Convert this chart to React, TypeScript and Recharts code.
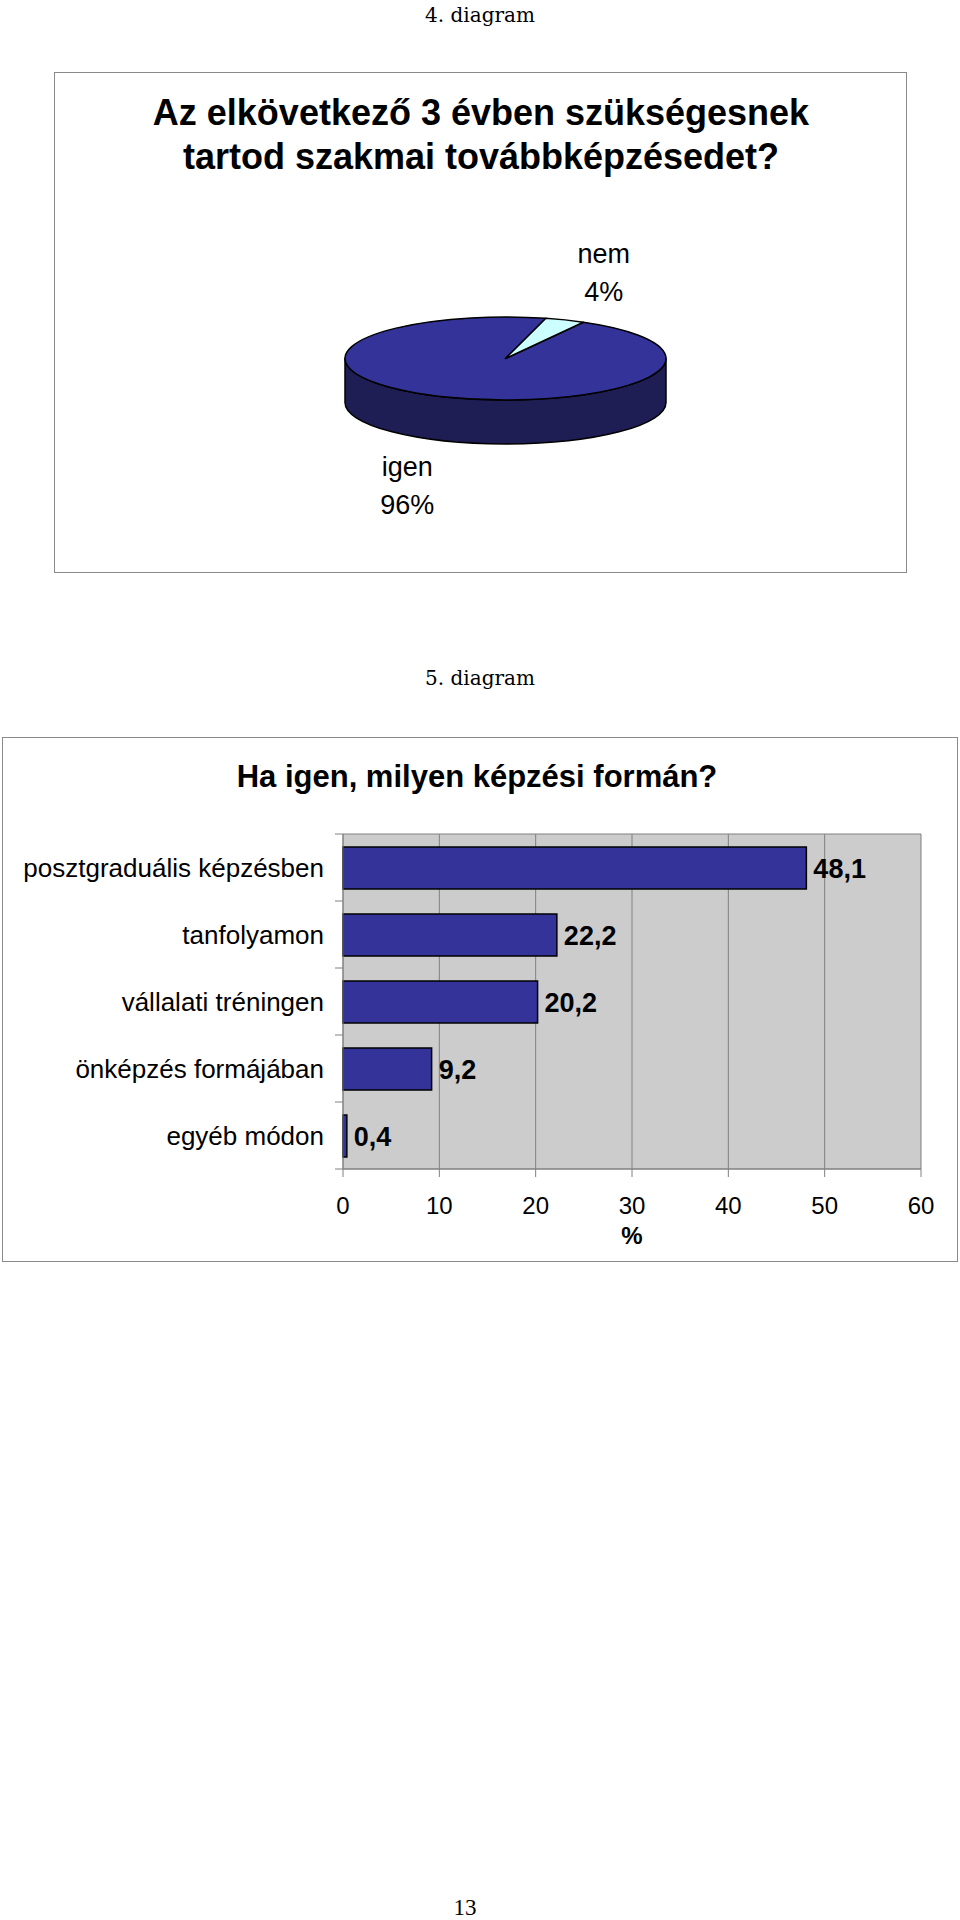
import {
  PieChart,
  Pie,
  Cell,
  BarChart,
  Bar,
  XAxis,
  YAxis,
  CartesianGrid,
  LabelList,
  Label,
} from 'recharts';

// 4. diagram
const pieNames = ['igen', 'nem'];
const pieValues = [96, 4];
const pieColors = ['#333399', '#ccffff'];
const pieSideColors = ['#1e1e55', '#7fa3a3'];

// 5. diagram
const barCategories = [
  'posztgraduális képzésben',
  'tanfolyamon',
  'vállalati tréningen',
  'önképzés formájában',
  'egyéb módon',
];
const barValues = [48.1, 22.2, 20.2, 9.2, 0.4];
const xTicks = [0, 10, 20, 30, 40, 50, 60];

const SANS = '"Liberation Sans", Arial, sans-serif';
const SERIF = '"DejaVu Serif", serif';

// 3D look of the pie
const TILT = 0.2586;
const DEPTH = 44;

// bar chart layout
const BAR_W = 960;
const BAR_H = 528;
const BAR_MARGIN = { top: 96, right: 39, bottom: 57, left: 0 };
const X_AXIS_H = 40;
const PLOT_H = BAR_H - BAR_MARGIN.top - BAR_MARGIN.bottom - X_AXIS_H;

const pieData = pieNames.map((name, i) => ({ name, value: pieValues[i] }));
const barData = barCategories.map((name, i) => ({ name, value: barValues[i] }));

function ellipsePoint(cx: number, cy: number, r: number, angle: number) {
  const rad = (angle * Math.PI) / 180;
  return [cx + r * Math.cos(rad), cy - r * TILT * Math.sin(rad)];
}

function PieSlice3D(props: any) {
  const { cx, cy, outerRadius: r, startAngle, endAngle, fill } = props;
  const ry = r * TILT;
  const hi = Math.max(startAngle, endAngle);
  const lo = Math.min(startAngle, endAngle);
  const [x1, y1] = ellipsePoint(cx, cy, r, hi);
  const [x2, y2] = ellipsePoint(cx, cy, r, lo);
  const large = hi - lo > 180 ? 1 : 0;
  const top = `M${cx},${cy} L${x1},${y1} A${r},${ry} 0 ${large} 1 ${x2},${y2} Z`;

  // only the front half of the rim is visible
  const walls: string[] = [];
  for (let k = -2; k <= 2; k++) {
    const a = Math.max(lo, -180 + 360 * k);
    const b = Math.min(hi, 360 * k);
    if (b - a > 0.01) {
      const [ax, ay] = ellipsePoint(cx, cy, r, b);
      const [bx, by] = ellipsePoint(cx, cy, r, a);
      walls.push(
        `M${ax},${ay} A${r},${ry} 0 0 1 ${bx},${by} L${bx},${by + DEPTH} A${r},${ry} 0 0 0 ${ax},${ay + DEPTH} Z`
      );
    }
  }
  const side = fill === pieColors[0] ? pieSideColors[0] : pieSideColors[1];

  return (
    <g>
      {walls.map((d, i) => (
        <path key={i} d={d} fill={side} stroke="#000" strokeWidth={1.5} strokeLinejoin="round" />
      ))}
      <path d={top} fill={fill} stroke="#000" strokeWidth={1.5} strokeLinejoin="round" />
    </g>
  );
}

function renderPieLabel(props: any) {
  const { cx, cy, midAngle, outerRadius, percent, name } = props;
  const rad = (midAngle * Math.PI) / 180;
  const s = Math.sin(rad);
  const x = cx + (outerRadius + 104) * Math.cos(rad);
  const y = cy - (outerRadius * TILT + 50) * s + (s < 0 ? DEPTH : 0);
  return (
    <text textAnchor="middle" fontFamily={SANS} fontSize={27} fill="#000">
      <tspan x={x} y={y - 11}>{name}</tspan>
      <tspan x={x} y={y + 27}>{Math.round(percent * 100)}%</tspan>
    </text>
  );
}

function CategoryTick(props: any) {
  const { x, y, payload, index, visibleTicksCount } = props;
  const axisX = x + 19;
  const half = PLOT_H / barCategories.length / 2;
  const last = index === (visibleTicksCount ?? barCategories.length) - 1;
  return (
    <g>
      <text x={x} y={y} dy="0.355em" textAnchor="end" fontFamily={SANS} fontSize={26} fill="#000">
        {payload.value}
      </text>
      <line x1={axisX - 8} x2={axisX} y1={y - half} y2={y - half} stroke="#808080" />
      {last && <line x1={axisX - 8} x2={axisX} y1={y + half} y2={y + half} stroke="#808080" />}
    </g>
  );
}

export default function App() {
  return (
    <div style={{ position: 'absolute', left: 0, top: 0, width: 960, height: 1920, background: '#fff' }}>
      <svg width={960} height={1920} style={{ position: 'absolute', left: 0, top: 0 }}>
        <text x={480} y={22} textAnchor="middle" fontFamily={SERIF} fontSize={20} fill="#000">
          4. diagram
        </text>
        <rect x={54.5} y={72.5} width={852} height={500} fill="none" stroke="#8a8a8a" />
        <g fontFamily={SANS} fontWeight="bold" fontSize={36} fill="#000" textAnchor="middle">
          <text x={481} y={125}>Az elkövetkező 3 évben szükségesnek</text>
          <text x={481} y={169}>tartod szakmai továbbképzésedet?</text>
        </g>

        <text x={480} y={685} textAnchor="middle" fontFamily={SERIF} fontSize={20} fill="#000">
          5. diagram
        </text>
        <rect x={2.5} y={737.5} width={955} height={524} fill="none" stroke="#8a8a8a" />
        <text x={477} y={787} textAnchor="middle" fontFamily={SANS} fontWeight="bold" fontSize={31} fill="#000">
          Ha igen, milyen képzési formán?
        </text>

        <text x={465} y={1915} textAnchor="middle" fontFamily='"Liberation Serif", serif' fontSize={23} fill="#000">
          13
        </text>
      </svg>

      <div style={{ position: 'absolute', left: 54, top: 72 }}>
        <PieChart width={852} height={501} margin={{ top: 0, right: 0, bottom: 0, left: 0 }}>
          <Pie
            data={pieData}
            dataKey="value"
            nameKey="name"
            cx={451.5}
            cy={286.5}
            outerRadius={160.5}
            startAngle={61}
            endAngle={-299}
            shape={PieSlice3D}
            activeShape={PieSlice3D}
            inactiveShape={PieSlice3D}
            label={renderPieLabel}
            labelLine={false}
            isAnimationActive={false}
          >
            {pieData.map((entry, i) => (
              <Cell key={entry.name} fill={pieColors[i]} />
            ))}
          </Pie>
        </PieChart>
      </div>

      <div style={{ position: 'absolute', left: 0, top: 738 }}>
        <BarChart width={BAR_W} height={BAR_H} data={barData} layout="vertical" margin={BAR_MARGIN}>
          <CartesianGrid
            fill="#cccccc"
            stroke="#808080"
            horizontalCoordinatesGenerator={({ offset }: any) => [offset.top, offset.top + offset.height]}
          />
          <XAxis
            type="number"
            domain={[0, 60]}
            ticks={xTicks}
            height={X_AXIS_H}
            tickSize={8}
            tickMargin={20}
            stroke="#808080"
            tick={{ fontSize: 24, fill: '#000', fontFamily: SANS }}
          >
            <Label value="%" position="bottom" offset={18} fontSize={24} fontWeight="bold" fill="#000" fontFamily={SANS} />
          </XAxis>
          <YAxis
            type="category"
            dataKey="name"
            width={343}
            tickSize={0}
            tickLine={false}
            tickMargin={19}
            stroke="#808080"
            tick={<CategoryTick />}
            interval={0}
          />
          <Bar dataKey="value" fill="#333399" stroke="#000" strokeWidth={1.5} barSize={42} isAnimationActive={false}>
            <LabelList
              dataKey="value"
              position="right"
              offset={7}
              formatter={(v: any) => Number(v).toFixed(1).replace('.', ',')}
              fontSize={27}
              fontWeight="bold"
              fill="#000"
              fontFamily={SANS}
            />
          </Bar>
        </BarChart>
      </div>
    </div>
  );
}
